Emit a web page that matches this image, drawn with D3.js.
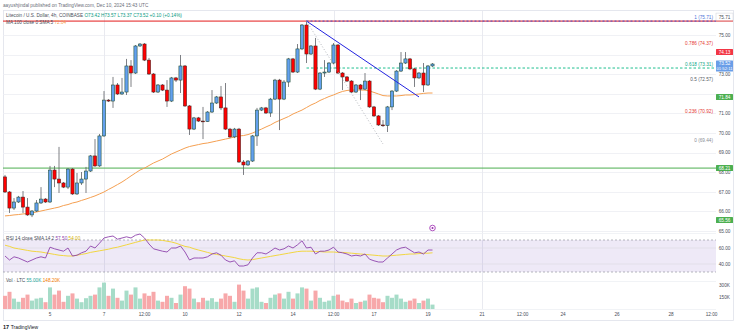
<!DOCTYPE html>
<html><head><meta charset="utf-8">
<script src="https://cdn.jsdelivr.net/npm/d3@7"></script>
<style>html,body{margin:0;padding:0;background:#fff;overflow:hidden}svg{display:block}text{font-family:"Liberation Sans",Arial,sans-serif}</style>
</head><body><svg id="c" width="745" height="335"></svg>
<script>
const opens=[67.76,66.99,66.17,66.48,66.73,66.22,65.82,66.02,66.43,66.63,
66.48,68.11,67.65,67.45,67.24,68.16,66.89,67.45,67.65,68.06,
68.83,68.32,69.85,71.68,71.63,72.45,71.99,72.09,73.42,73.06,
74.44,74.54,73.72,73.01,72.09,72.45,72.19,71.63,72.81,72.70,
73.42,71.38,70.20,70.77,70.61,70.58,71.07,71.53,71.84,71.28,
70.20,69.80,70.20,68.52,68.37,68.57,69.85,71.17,71.28,71.02,
71.73,72.70,71.73,72.60,73.78,73.11,74.29,75.51,74.03,74.44,
72.24,73.06,73.11,73.57,74.49,73.06,72.86,72.65,72.09,72.45,
72.24,72.65,71.33,70.87,70.41,70.38,71.33,72.14,73.16,73.57,
73.78,73.27,72.81,73.06,72.45,73.42];
const highs=[67.86,67.04,66.68,66.79,67.04,66.68,66.07,66.58,67.24,66.68,
68.32,68.32,69.29,67.50,68.21,68.21,67.96,68.01,68.27,68.88,
69.69,69.95,72.14,71.73,72.86,72.55,72.81,73.78,73.72,74.49,
74.59,74.59,73.83,73.06,72.50,72.50,72.70,72.86,72.86,73.98,
73.47,71.43,70.82,70.82,71.33,71.12,72.19,71.89,72.40,72.55,
70.26,70.26,70.26,68.62,68.62,69.90,71.28,71.33,71.33,71.79,
72.76,72.76,72.70,73.83,73.83,74.54,75.56,75.71,74.49,74.85,
73.11,73.72,73.62,74.59,74.54,73.11,72.91,72.70,72.50,72.50,
73.06,72.70,71.38,70.92,70.66,71.38,72.19,73.21,74.13,74.13,
73.83,73.32,73.11,73.57,73.47,73.57];
const lows=[66.94,65.92,66.07,66.43,65.92,65.77,65.71,65.97,66.38,66.43,
66.43,67.24,66.94,67.19,67.14,66.84,66.84,67.35,66.94,68.01,
68.27,68.27,69.80,71.58,71.28,71.94,71.94,71.94,72.35,73.01,
74.39,73.67,72.96,72.04,72.04,72.14,71.33,71.58,72.60,72.04,
71.33,69.90,70.15,70.56,69.69,70.56,71.02,71.48,71.17,70.15,
69.74,69.74,68.47,67.86,68.32,68.52,69.34,71.12,70.97,70.82,
71.68,70.15,71.68,72.35,73.06,73.06,74.23,73.57,73.98,72.19,
72.19,72.86,73.06,73.52,73.01,72.19,72.60,72.04,72.04,71.68,
72.19,71.28,70.82,70.36,70.31,70.05,71.17,72.09,73.11,73.52,
73.21,72.35,72.76,72.09,72.40,73.37];
const closes=[66.99,66.17,66.48,66.73,66.22,65.82,66.02,66.43,66.63,66.48,
68.11,67.65,67.45,67.24,68.16,66.89,67.45,67.65,68.06,68.83,
68.32,69.85,71.68,71.63,72.45,71.99,72.09,73.42,73.06,74.44,
74.54,73.72,73.01,72.09,72.45,72.19,71.63,72.81,72.70,73.42,
71.38,70.20,70.77,70.61,70.58,71.07,71.53,71.84,71.28,70.20,
69.80,70.20,68.52,68.37,68.57,69.85,71.17,71.28,71.02,71.73,
72.70,71.73,72.60,73.78,73.11,74.29,75.51,74.03,74.44,72.24,
73.06,73.11,73.57,74.49,73.06,72.86,72.65,72.09,72.45,72.24,
72.65,71.33,70.87,70.41,70.38,71.33,72.14,73.16,73.57,73.78,
73.27,72.81,73.06,72.45,73.42,73.52];
const ma100=[65.77,65.79,65.82,65.84,65.87,65.89,65.92,65.97,66.02,66.07,
66.12,66.17,66.22,66.30,66.35,66.43,66.48,66.56,66.63,66.71,
66.79,66.89,66.99,67.12,67.24,67.37,67.50,67.65,67.81,67.96,
68.11,68.21,68.34,68.47,68.57,68.67,68.80,68.93,69.03,69.13,
69.23,69.31,69.36,69.41,69.46,69.49,69.54,69.59,69.64,69.69,
69.74,69.80,69.85,69.87,69.92,70.00,70.10,70.20,70.31,70.41,
70.54,70.64,70.74,70.84,70.97,71.07,71.17,71.30,71.43,71.53,
71.66,71.76,71.86,71.94,72.04,72.12,72.17,72.19,72.19,72.19,
72.19,72.14,72.07,71.99,71.91,71.89,71.89,71.89,71.91,71.94,
71.94,71.96,71.99,72.02,72.04,72.04];
const rsi=[50,45,49,47.5,45,42.5,45,47.5,49,47.5,
61,59,57.5,56,60,50,51,54,56,62.5,
60,66,72.5,74,75,71,72.5,74,72.5,76,
77.5,72.5,65,59,57.5,56,55,60,60,62.5,
55,45,47.5,47.5,47.5,49,52.5,54,51,45,
42.5,44,37.5,37.5,39,47.5,54,54,52.5,56,
60,57.5,59,62.5,60,64,69,60,61,52.5,
56,56,57.5,61,55,54,52.5,50,51,50,
52.5,46,44,42.5,42.5,47.5,52.5,57.5,60,61,
57.5,54,55,52.5,57.5,57.5];
const rsiMA=[63.5,62,60,59,58,57,56,55.5,55,54,
53,52,51,50.5,50,50,51,52,53,54.5,
55.5,56.5,57.5,58.5,60,61,62.5,64,65.5,67,
68.5,70,70,70,70,69.5,68.5,67.5,66,64,
62,61,59,57.5,56,54.5,53,52,51,50,
49,48,46.5,45.5,45,45.5,46.5,47.5,48.5,49.5,
50.5,51.5,52.5,53.5,54.5,55.5,56,56,56,55.5,
55.5,55,55,55,54.5,54.5,54,53.5,53,52.5,
52,51.5,51,50.5,50,50,50.5,51,51.5,52,
52.5,52.5,53,53.5,53.5,54];
const volumes=[165,215,130,90,140,180,105,130,140,85,
270,180,230,90,165,195,130,85,135,165,
180,270,330,165,255,140,105,230,180,270,
130,195,165,215,105,90,165,140,75,180,
285,255,130,85,140,105,135,90,130,195,
165,90,305,230,130,255,270,90,75,140,
180,195,130,215,130,195,270,255,105,230,
140,90,105,165,180,105,85,130,75,90,
105,180,140,130,85,165,140,180,130,90,
105,130,75,105,130,55];
const priceTicks=[75,73,71,70,69,68,67,66,65];
const priceGrid=[75,74,73,72,71,70,69,68,67,66,65];
const rsiTicks=[60,40];
const volTicks=[300,150];
const timeTickIdx=[10,22,31,40,52,64,73,82,94,106,115,124,136,148,157];
const timeTickLabels=["5","7","12:00","10","12","14","12:00","17","19","21","12:00","24","26","28","12:00"];
const vGridTicks=[1,6,9];
const fibHigh=75.71, fibLow=69.44, fibStart=67, fibEnd=84;
const fibLevels=[1,0.786,0.618,0.5,0.236,0];
const fibColors=["#4f74d8","#e53935","#14a888","#555a66","#e53935","#8a8d96"];
const trendPts=[{k:67,p:75.71},{k:92,p:71.84}];
const resistance=75.71, support=68.21;
const boxes=[{v:74.13,c:"#f23645"},{v:71.84,c:"#4caf50"},{v:68.21,c:"#4caf50"},{v:65.56,c:"#4caf50"}];

const svg=d3.select('#c');
const x=d3.scaleLinear().domain([0,158]).range([5,716]);
const y=d3.scaleLinear().domain([65,75]).range([231,35]);
const yR=d3.scaleLinear().domain([30,70]).range([272,240]);
const yV=d3.scaleLinear().domain([0,300]).range([309,285]);
const L=3,R=716;
const FS=4.7, txt="#4a4e59";

svg.append('rect').attr('x',3.5).attr('y',10.5).attr('width',730).attr('height',310).attr('fill','none').attr('stroke','#dfe2ea').attr('stroke-width',0.8);
svg.append('text').attr('x',3).attr('y',6.5).attr('font-size',FS).attr('fill','#6a6d78').text('aayushjindal published on TradingView.com, Dec 10, 2024 15:43 UTC');

const defs=svg.append('defs');
defs.append('clipPath').attr('id','cm').append('rect').attr('x',L).attr('y',11).attr('width',R-L).attr('height',222);
defs.append('clipPath').attr('id','cr').append('rect').attr('x',L).attr('y',233).attr('width',R-L).attr('height',48);
defs.append('clipPath').attr('id','cv').append('rect').attr('x',L).attr('y',281).attr('width',R-L).attr('height',28);

const g=svg.append('g');
g.selectAll('.hg').data(priceGrid).join('line').attr('x1',L).attr('x2',R).attr('y1',d=>Math.round(y(d))+0.5).attr('y2',d=>Math.round(y(d))+0.5).attr('stroke','#eceef2').attr('stroke-width',0.8);
g.selectAll('.vg').data(vGridTicks).join('line').attr('x1',i=>Math.round(x(timeTickIdx[i]))+0.5).attr('x2',i=>Math.round(x(timeTickIdx[i]))+0.5).attr('y1',11).attr('y2',309).attr('stroke','#e6e8ee').attr('stroke-width',0.9);
[233,281,309].forEach(v=>g.append('line').attr('x1',L).attr('x2',R).attr('y1',v+0.5).attr('y2',v+0.5).attr('stroke','#eef0f4').attr('stroke-width',0.8));

const m=svg.append('g').attr('clip-path','url(#cm)');
m.append('line').attr('x1',L).attr('x2',R).attr('y1',y(resistance)).attr('y2',y(resistance)).attr('stroke','#e31b1b').attr('stroke-width',1);
m.append('line').attr('x1',x(fibStart)).attr('x2',R).attr('y1',y(resistance)).attr('y2',y(resistance)).attr('stroke','#3f51d8').attr('stroke-width',1).attr('stroke-dasharray','2,2');
m.append('line').attr('x1',L).attr('x2',R).attr('y1',y(support)).attr('y2',y(support)).attr('stroke','#4caf50').attr('stroke-width',1);
const f618=fibLow+(fibHigh-fibLow)*0.618;
m.append('line').attr('x1',x(fibStart)).attr('x2',R).attr('y1',y(f618)).attr('y2',y(f618)).attr('stroke','#1fbf8f').attr('stroke-width',1).attr('stroke-dasharray','2.5,2');
fibLevels.forEach((lv,i)=>{const p=fibLow+(fibHigh-fibLow)*lv;
 m.append('text').attr('x',713).attr('y',y(p)-2).attr('text-anchor','end').attr('font-size',FS).attr('fill',fibColors[i]).text(lv+' ('+p.toFixed(2)+')');});
m.append('path').datum(ma100).attr('d',d3.line().x((d,i)=>x(i)).y(d=>y(d))).attr('fill','none').attr('stroke','#f5a052').attr('stroke-width',1);
const idx=d3.range(opens.length);
m.selectAll('.wk').data(idx).join('line').attr('x1',i=>x(i)).attr('x2',i=>x(i)).attr('y1',i=>y(highs[i])).attr('y2',i=>y(lows[i])).attr('stroke','#5d6066').attr('stroke-width',0.8);
m.selectAll('.bd').data(idx).join('rect').attr('x',i=>x(i)-1.6).attr('width',3.2)
 .attr('y',i=>y(Math.max(opens[i],closes[i]))).attr('height',i=>Math.max(0.8,Math.abs(y(opens[i])-y(closes[i]))))
 .attr('fill',i=>closes[i]>=opens[i]?'#62a0ef':'#ff0000').attr('stroke',i=>closes[i]>=opens[i]?'#1e4a2c':'#43201f').attr('stroke-width',0.55);
m.append('line').attr('x1',x(trendPts[0].k)).attr('y1',y(trendPts[0].p)).attr('x2',x(trendPts[1].k)).attr('y2',y(trendPts[1].p)).attr('stroke','#2323e0').attr('stroke-width',1);
m.append('line').attr('x1',x(fibStart)).attr('y1',y(fibHigh)).attr('x2',x(fibEnd)).attr('y2',y(fibLow)).attr('stroke','#a0a3aa').attr('stroke-width',0.8).attr('stroke-dasharray','1,2');
m.append('circle').attr('cx',x(opens.length-1)).attr('cy',228).attr('r',2.8).attr('fill','#fff').attr('stroke','#9c27b0').attr('stroke-width',0.8);
m.append('circle').attr('cx',x(opens.length-1)).attr('cy',228).attr('r',1).attr('fill','#9c27b0');

const lg=svg.append('g').attr('font-size',FS);
const l1=lg.append('text').attr('x',6).attr('y',17).attr('fill',txt);
l1.append('tspan').text('Litecoin / U.S. Dollar, 4h, COINBASE  ');
const n=opens.length-1;
l1.append('tspan').attr('fill','#089981').text('O'+opens[n].toFixed(2)+' H'+highs[n].toFixed(2)+' L'+lows[n].toFixed(2)+' C'+closes[n].toFixed(2)+' +'+(closes[n]-opens[n]).toFixed(2)+' (+'+((closes[n]-opens[n])/opens[n]*100).toFixed(2)+'%)');
const l2=lg.append('text').attr('x',6).attr('y',24).attr('fill',txt);
l2.append('tspan').text('MA 100 close 0 SMA 5  ');
l2.append('tspan').attr('fill','#f5a052').text(ma100[n].toFixed(2));

const ax=svg.append('g').attr('font-size',FS).attr('fill',txt).attr('text-anchor','middle');
ax.selectAll('text').data(priceTicks).join('text').attr('x',724.5).attr('y',d=>y(d)+1.7).text(d=>d.toFixed(2));
svg.append('rect').attr('x',716).attr('y',y(resistance)-8).attr('width',17).attr('height',8).attr('fill','#fff').attr('stroke','#d0d3da').attr('stroke-width',0.5);
svg.append('line').attr('x1',716).attr('x2',733).attr('y1',y(resistance)).attr('y2',y(resistance)).attr('stroke','#e31b1b').attr('stroke-width',0.8);
svg.append('text').attr('x',724.5).attr('y',y(resistance)-2.5).attr('font-size',FS).attr('fill',txt).attr('text-anchor','middle').text(resistance.toFixed(2));
boxes.forEach(b=>{svg.append('rect').attr('x',716).attr('y',y(b.v)-3).attr('width',17).attr('height',6).attr('fill',b.c).attr('rx',0.5);
 svg.append('text').attr('x',724.5).attr('y',y(b.v)+1.7).attr('font-size',FS).attr('fill','#fff').attr('text-anchor','middle').text(b.v.toFixed(2));});
const cy=y(closes[n]);
svg.append('rect').attr('x',716).attr('y',cy-3.5).attr('width',17).attr('height',11).attr('fill','#6a9ee8').attr('rx',0.5);
svg.append('text').attr('x',724.5).attr('y',cy+1.3).attr('font-size',FS).attr('fill','#fff').attr('text-anchor','middle').text(closes[n].toFixed(2));
svg.append('text').attr('x',724.5).attr('y',cy+6.3).attr('font-size',4.2).attr('fill','#fff').attr('text-anchor','middle').text('01:52:11');

const r=svg.append('g').attr('clip-path','url(#cr)');
r.append('rect').attr('x',L).attr('width',R-L).attr('y',yR(70)).attr('height',yR(30)-yR(70)).attr('fill','rgba(126,87,194,0.13)');
r.selectAll('.rg').data(rsiTicks).join('line').attr('x1',L).attr('x2',R).attr('y1',d=>yR(d)).attr('y2',d=>yR(d)).attr('stroke','#dcdde3').attr('stroke-width',0.7);
[70,30].forEach(v=>r.append('line').attr('x1',L).attr('x2',R).attr('y1',yR(v)).attr('y2',yR(v)).attr('stroke','#9598a1').attr('stroke-width',0.7).attr('stroke-dasharray','2,2'));
r.append('path').datum(rsiMA).attr('d',d3.line().x((d,i)=>x(i)).y(d=>yR(d))).attr('fill','none').attr('stroke','#f2d42c').attr('stroke-width',0.9);
r.append('path').datum(rsi).attr('d',d3.line().x((d,i)=>x(i)).y(d=>yR(d))).attr('fill','none').attr('stroke','#8e44ad').attr('stroke-width',0.9);
const rl=svg.append('text').attr('x',6).attr('y',240).attr('font-size',FS).attr('fill',txt);
rl.append('tspan').text('RSI 14 close SMA 14 2  ');
rl.append('tspan').attr('fill','#8e44ad').text(rsi[n].toFixed(2)+'  ');
rl.append('tspan').attr('fill','#d4b106').text(rsiMA[n].toFixed(2));
svg.append('g').attr('font-size',FS).attr('fill',txt).attr('text-anchor','middle').selectAll('text').data(rsiTicks).join('text').attr('x',724.5).attr('y',d=>yR(d)+1.7).text(d=>d.toFixed(2));

const v=svg.append('g').attr('clip-path','url(#cv)');
v.selectAll('rect').data(idx).join('rect').attr('x',i=>x(i)-2).attr('width',4).attr('y',i=>yV(volumes[i])).attr('height',i=>yV(0)-yV(volumes[i]))
 .attr('fill',i=>closes[i]>=opens[i]?'#a6dcc8':'#f7a8aa');
const vl=svg.append('text').attr('x',6).attr('y',282).attr('font-size',FS).attr('fill',txt);
vl.append('tspan').text('Vol · LTC  ');
vl.append('tspan').attr('fill','#26a69a').text(volumes[n].toFixed(2)+'K  ');
vl.append('tspan').attr('fill','#f57c00').text('148.20K');
svg.append('g').attr('font-size',FS).attr('fill',txt).attr('text-anchor','middle').selectAll('text').data(volTicks).join('text').attr('x',724.5).attr('y',d=>yV(d)+1.7).text(d=>d+'K');

svg.append('g').attr('font-size',FS).attr('fill',txt).attr('text-anchor','middle').selectAll('text').data(timeTickIdx).join('text').attr('x',d=>x(d)).attr('y',315.5).text((d,i)=>timeTickLabels[i]);

const lo=svg.append('text').attr('x',3).attr('y',329).attr('font-size',5.5).attr('fill','#131722');
lo.append('tspan').attr('font-weight','bold').text('17 ');
lo.append('tspan').attr('font-size',5).text('TradingView');
</script></body></html>
